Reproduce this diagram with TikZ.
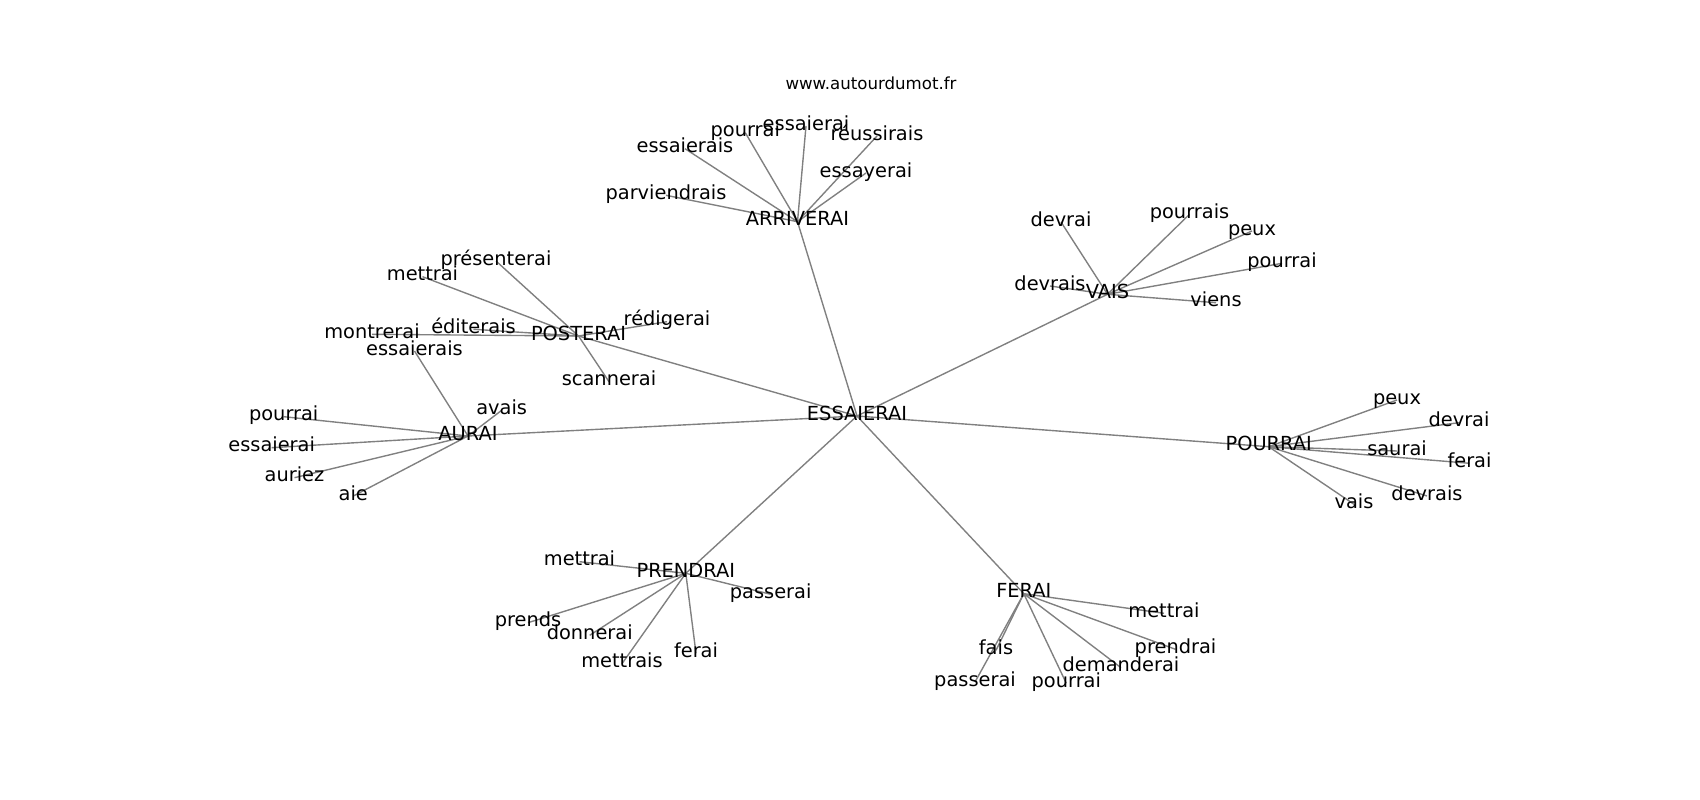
\documentclass[tikz,border=0pt]{standalone}
\usepackage{fontspec}
\setmainfont{DejaVu Sans}
\usetikzlibrary{backgrounds}
\begin{document}
\begin{tikzpicture}[x=0.01in,y=-0.01in]
		\tikzstyle{word}=[inner sep=0pt,text height=0.8em,text depth=0.2em,font=\fontsize{14}{16}\selectfont]
		\tikzstyle{sitename}=[inner sep=0pt,text height=0.8em,text depth=0.2em,font=\fontsize{12}{14}\selectfont]
		\tikzstyle{link}=[gray,line width=1bp]

		\useasboundingbox (0,-2) rectangle (1700,798);
		\node[sitename] (site) at (871,83) {www.autourdumot.fr};

		% the centre word and its seven neighbours
		\foreach \x / \y / \z / \t in {857/414/e0/ESSAIERAI,797.5/219.7/arr/ARRIVERAI,578.5/334/pos/POSTERAI,468/434/aur/AURAI,1107.5/292.3/vai/VAIS,1268.7/444.7/pou/POURRAI,685.8/571.3/pre/PRENDRAI,1023.8/591.7/fer/FERAI} { \node[word] (\z) at (\x,\y) {\t};}

		% six words round each neighbour
		\foreach \x / \y / \z / \t in {685/146.7/arr1/essaierais,745.3/130.7/arr2/pourrai,806/124/arr3/essaierai,877/134/arr4/réussirais,866/171/arr5/essayerai,666/193.3/arr6/parviendrais,
			496/259/pos1/présenterai,422.5/274.7/pos2/mettrai,372/332.3/pos3/montrerai,473.5/327.3/pos4/éditerais,667/319.7/pos5/rédigerai,609/379.7/pos6/scannerai,
			414.5/349/aur1/essaierais,501.7/408.3/aur2/avais,283.7/414.7/aur3/pourrai,271.7/445.7/aur4/essaierai,294.5/475.7/aur5/auriez,353.3/494/aur6/aie,
			1061/220/vai1/devrai,1050/284/vai2/devrais,1189.5/212.3/vai3/pourrais,1252/229/vai4/peux,1282/261.3/vai5/pourrai,1216/300.7/vai6/viens,
			1397/398/pou1/peux,1459/420.7/pou2/devrai,1397/449/pou3/saurai,1469.5/461.3/pou4/ferai,1427/494/pou5/devrais,1354/502.3/pou6/vais,
			579.5/559.7/pre1/mettrai,770.7/592.3/pre2/passerai,528/620.7/pre3/prends,589.7/633.3/pre4/donnerai,622/661.7/pre5/mettrais,696/651.3/pre6/ferai,
			1164/611.3/fer1/mettrai,1175.5/647.3/fer2/prendrai,996/648.3/fer3/fais,1121/665.7/fer4/demanderai,975/680/fer5/passerai,1066.3/681.3/fer6/pourrai} { \node[word] (\z) at (\x,\y) {\t};}

		\begin{pgfonlayer}{background}
		\foreach \h in {arr,pos,aur,vai,pou,pre,fer} { \draw[link] (e0.center) -- (\h.center);}
		\foreach \h in {arr,pos,aur,vai,pou,pre,fer} { \foreach \i in {1,...,6} { \draw[link] (\h.center) -- (\h\i.center);}}
		\end{pgfonlayer}

	\end{tikzpicture}
\end{document}
